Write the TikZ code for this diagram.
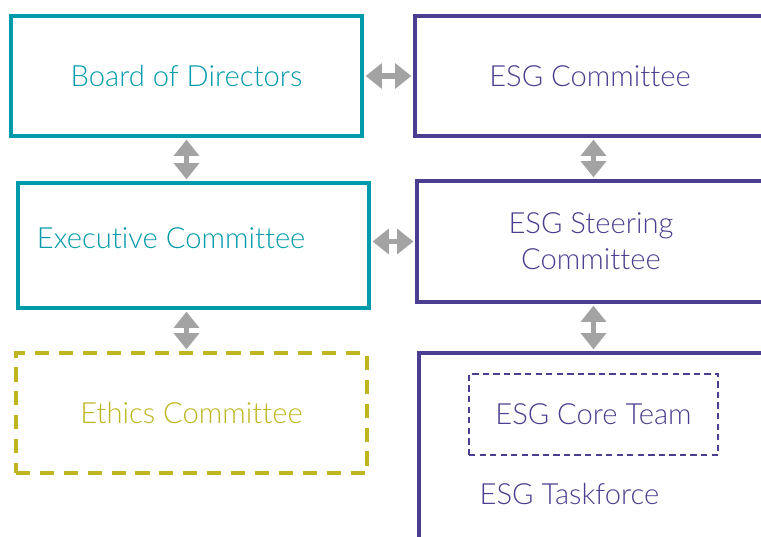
\documentclass[tikz,border=0pt]{standalone}
\usepackage{fontspec}
\setmainfont{Lato}[UprightFont=* Light,Ligatures={NoCommon,NoRare},Contextuals=NoAlternate]
\usetikzlibrary{arrows.meta}

\definecolor{teal}{RGB}{0,155,170}
\definecolor{esgpurple}{RGB}{75,61,143}
\definecolor{olive}{RGB}{190,181,32}
\definecolor{arrowgray}{RGB}{163,163,163}

\tikzset{
    box/.style={draw, line width=1.05pt, rectangle, inner sep=0pt, font=\fontsize{8.3}{10.2}\selectfont, align=center},
    tealbox/.style={box, color=teal},
    purplebox/.style={box, color=esgpurple},
    link/.style={arrowgray, line width=1.6pt, {Triangle[width=7pt,length=4.6pt]}-{Triangle[width=7pt,length=4.6pt]}, shorten <=0.5pt, shorten >=0.5pt},
}

\begin{document}
\begin{tikzpicture}
            \clip (0,0) rectangle (7.61,-5.36);
            \useasboundingbox (0,0) rectangle (7.61,-5.36);

            % left column
            \node[tealbox, minimum width=3.51cm, minimum height=1.20cm] (board) at (1.865,-0.76) {Board of Directors};
            \node[tealbox, minimum width=3.51cm, minimum height=1.25cm] (exec) at (1.935,-2.455) {};
            \node[teal, font=\fontsize{8.3}{10.2}\selectfont, anchor=west, inner sep=0pt] (exectext) at ([xshift=0.2cm,yshift=0.07cm]exec.west) {Executive Committee};
            \node[box, color=olive, dashed, dash pattern=on 4pt off 2.8pt, minimum width=3.51cm, minimum height=1.20cm] (ethics) at (1.915,-4.13) {Ethics Committee};

            % right column (runs off the right edge)
            \node[purplebox, minimum width=3.50cm, minimum height=1.20cm] (esgcom) at (5.90,-0.76) {ESG Committee};
            \node[purplebox, minimum width=3.48cm, minimum height=1.21cm] (steer) at (5.91,-2.415) {ESG Steering\\Committee};
            \node[purplebox, minimum width=3.46cm, minimum height=2.07cm] (task) at (5.92,-4.565) {};
            \node[box, color=esgpurple, line width=0.5pt, dashed, dash pattern=on 1.8pt off 1.2pt, minimum width=2.49cm, minimum height=0.81cm] (core) at (5.935,-4.145) {ESG Core Team};
            \node[esgpurple, font=\fontsize{8.3}{10.2}\selectfont, anchor=west, inner sep=0pt] (tasktext) at (4.79,-4.94) {ESG Taskforce};

            % links
            \draw[link] (board.east) -- (esgcom.west);
            \draw[link] (board.south) -- (board.south |- exec.north);
            \draw[link] (exec.east |- steer.west) -- (steer.west);
            \draw[link] (core.north |- esgcom.south) -- (core.north |- steer.north);
            \draw[link] (board.south |- exec.south) -- (board.south |- ethics.north);
            \draw[link] (core.north |- steer.south) -- (core.north |- task.north);
        \end{tikzpicture}
\end{document}
